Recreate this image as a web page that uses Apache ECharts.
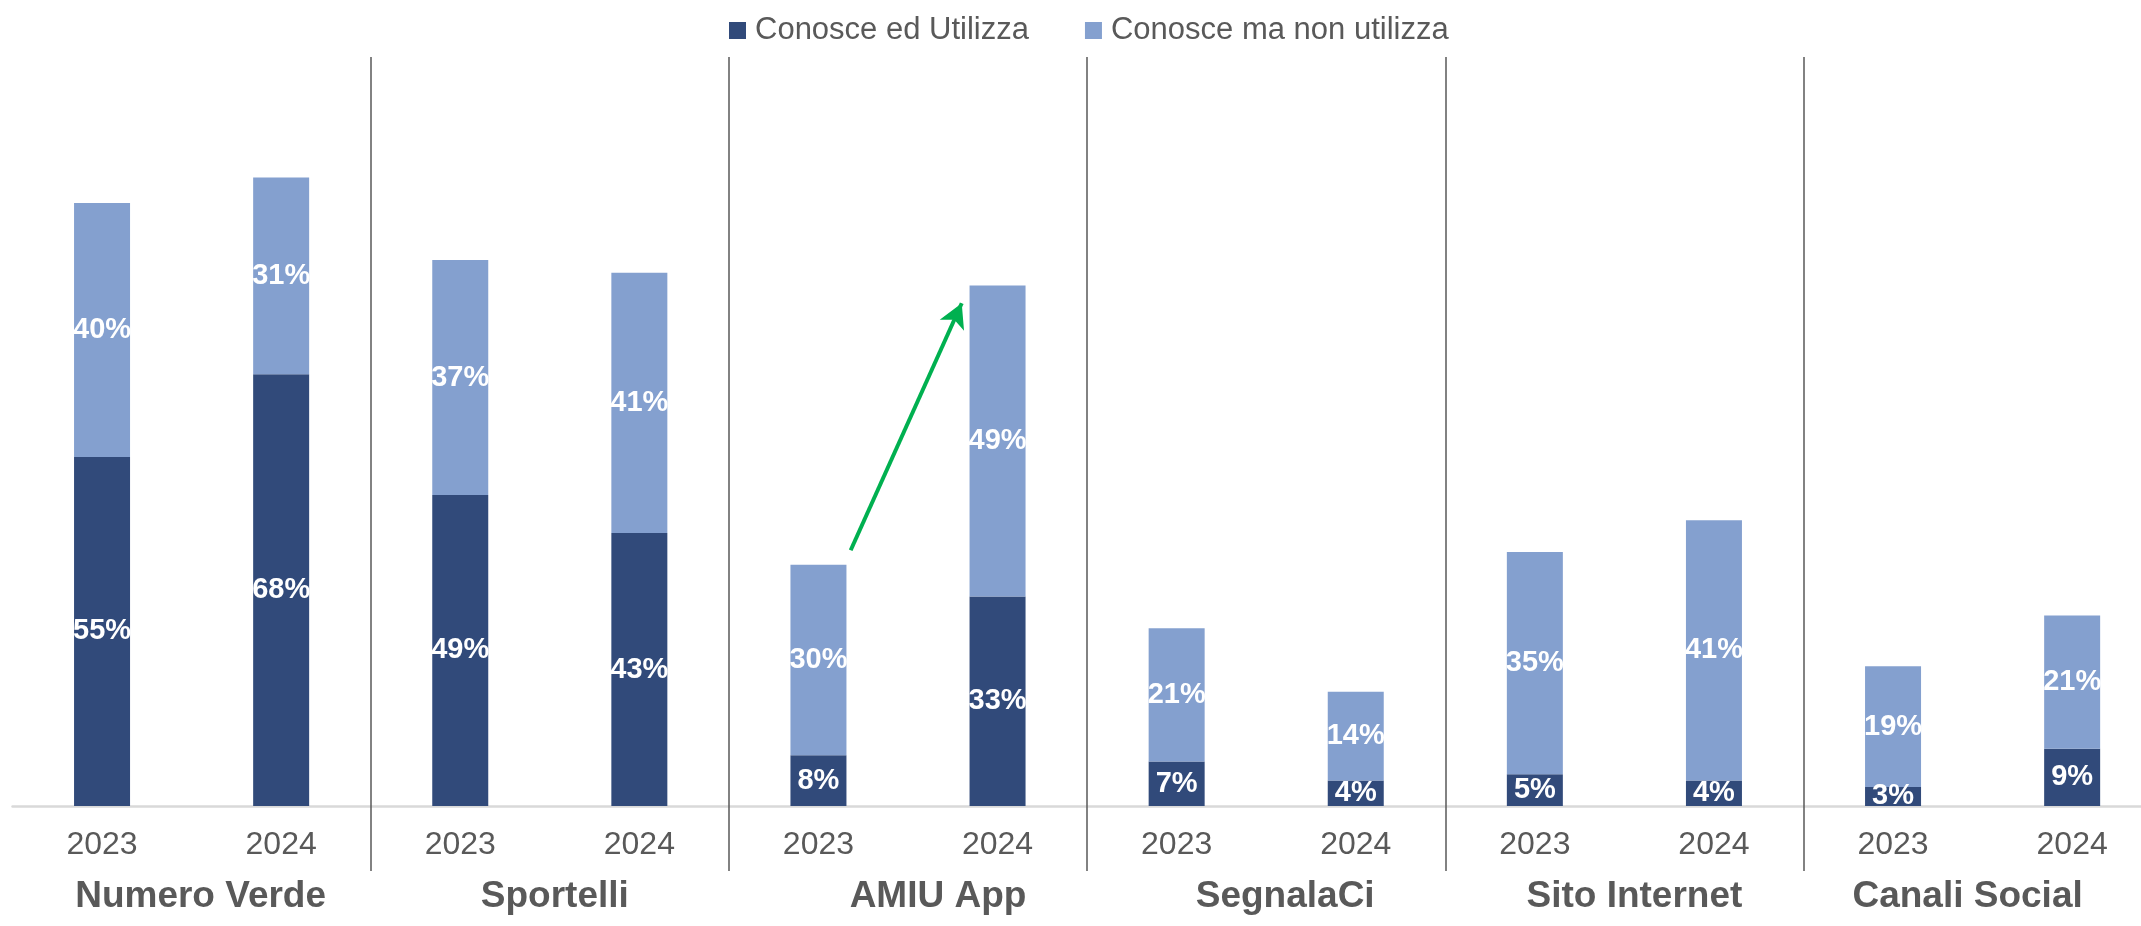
<!DOCTYPE html>
<html>
<head>
<meta charset="utf-8">
<script src="https://cdn.jsdelivr.net/npm/echarts@6/dist/echarts.min.js"></script>
<style>
  html, body { margin: 0; padding: 0; background: #fff; }
  #chart { width: 2141px; height: 926px; }
</style>
</head>
<body>
<div id="chart"></div>
<script>
// years repeated for each channel, channels are the group labels underneath
const years = ['2023', '2024', '2023', '2024', '2023', '2024', '2023', '2024', '2023', '2024', '2023', '2024'];
const channels = ['Numero Verde', 'Sportelli', 'AMIU App', 'SegnalaCi', 'Sito Internet', 'Canali Social'];
const usaValues = [55, 68, 49, 43, 8, 33, 7, 4, 5, 4, 3, 9];
const nonUsaValues = [40, 31, 37, 41, 30, 49, 21, 14, 35, 41, 19, 21];
// green arrow between AMIU App 2023 and 2024 (x in category index units, y in %)
const arrowStart = [4.18, 40.3];
const arrowEnd = [4.80, 79.2];

const font = 'Liberation Sans, Arial, sans-serif';
const grey = '#595959';
// the channel names in the slide are not exactly centred under their group
const nudge = [9, 5, 30, 19, 10, -15];

const chart = echarts.init(document.getElementById('chart'));

const option = {
  animation: false,
  textStyle: { fontFamily: font },
  legend: {
    data: ['Conosce ed Utilizza', 'Conosce ma non utilizza'],
    left: 724,
    top: 10,
    icon: 'rect',
    itemWidth: 17,
    itemHeight: 17,
    itemGap: 56,
    textStyle: { fontSize: 31, color: grey, fontFamily: font, padding: [0, 0, 0, 4] }
  },
  // plot runs a little past the right edge, like the original slide
  grid: { left: 12.5, right: -20.7, top: 57, bottom: 120, containLabel: false, outerBoundsMode: 'none' },
  xAxis: [
    {
      type: 'category',
      data: years,
      position: 'bottom',
      axisLine: { show: true, lineStyle: { color: '#d9d9d9', width: 2.5 } },
      axisTick: { show: false },
      axisLabel: { fontSize: 32, color: grey, margin: 23, interval: 0 }
    },
    {
      type: 'category',
      data: channels.map((c, i) => ({
        value: c,
        textStyle: { padding: nudge[i] > 0 ? [0, 0, 0, nudge[i] * 2] : [0, -nudge[i] * 2, 0, 0] }
      })),
      position: 'bottom',
      offset: 65,
      axisLine: { show: false },
      axisTick: {
        show: true,
        inside: true,
        length: 814,
        interval: function (i) { return i > 0; },
        lineStyle: { color: '#595959', width: 1.5 }
      },
      axisLabel: { fontSize: 37, fontWeight: 'bold', color: grey, margin: 7, interval: 0 }
    },
    {
      type: 'value',
      min: -0.5,
      max: 11.5,
      show: false,
      position: 'top'
    }
  ],
  yAxis: {
    type: 'value',
    min: 0,
    max: 118,
    show: false,
    splitLine: { show: false }
  },
  series: [
    {
      name: 'Conosce ed Utilizza',
      type: 'bar',
      stack: 'tot',
      barWidth: 56,
      data: usaValues,
      itemStyle: { color: '#314a7a' },
      label: {
        show: true,
        position: 'inside',
        formatter: '{c}%',
        color: '#fff',
        fontWeight: 'bold',
        fontSize: 29,
        fontFamily: font
      }
    },
    {
      name: 'Conosce ma non utilizza',
      type: 'bar',
      stack: 'tot',
      barWidth: 56,
      data: nonUsaValues,
      itemStyle: { color: '#84a0cf' },
      label: {
        show: true,
        position: 'inside',
        formatter: '{c}%',
        color: '#fff',
        fontWeight: 'bold',
        fontSize: 29,
        fontFamily: font
      }
    },
    {
      name: 'freccia',
      type: 'line',
      xAxisIndex: 2,
      data: [],
      silent: true,
      markLine: {
        silent: true,
        symbol: ['none', 'arrow'],
        symbolSize: [20, 24],
        label: { show: false },
        lineStyle: { color: '#00b050', width: 4, type: 'solid' },
        data: [[{ coord: arrowStart }, { coord: arrowEnd }]]
      }
    }
  ]
};

chart.setOption(option);
</script>
</body>
</html>
